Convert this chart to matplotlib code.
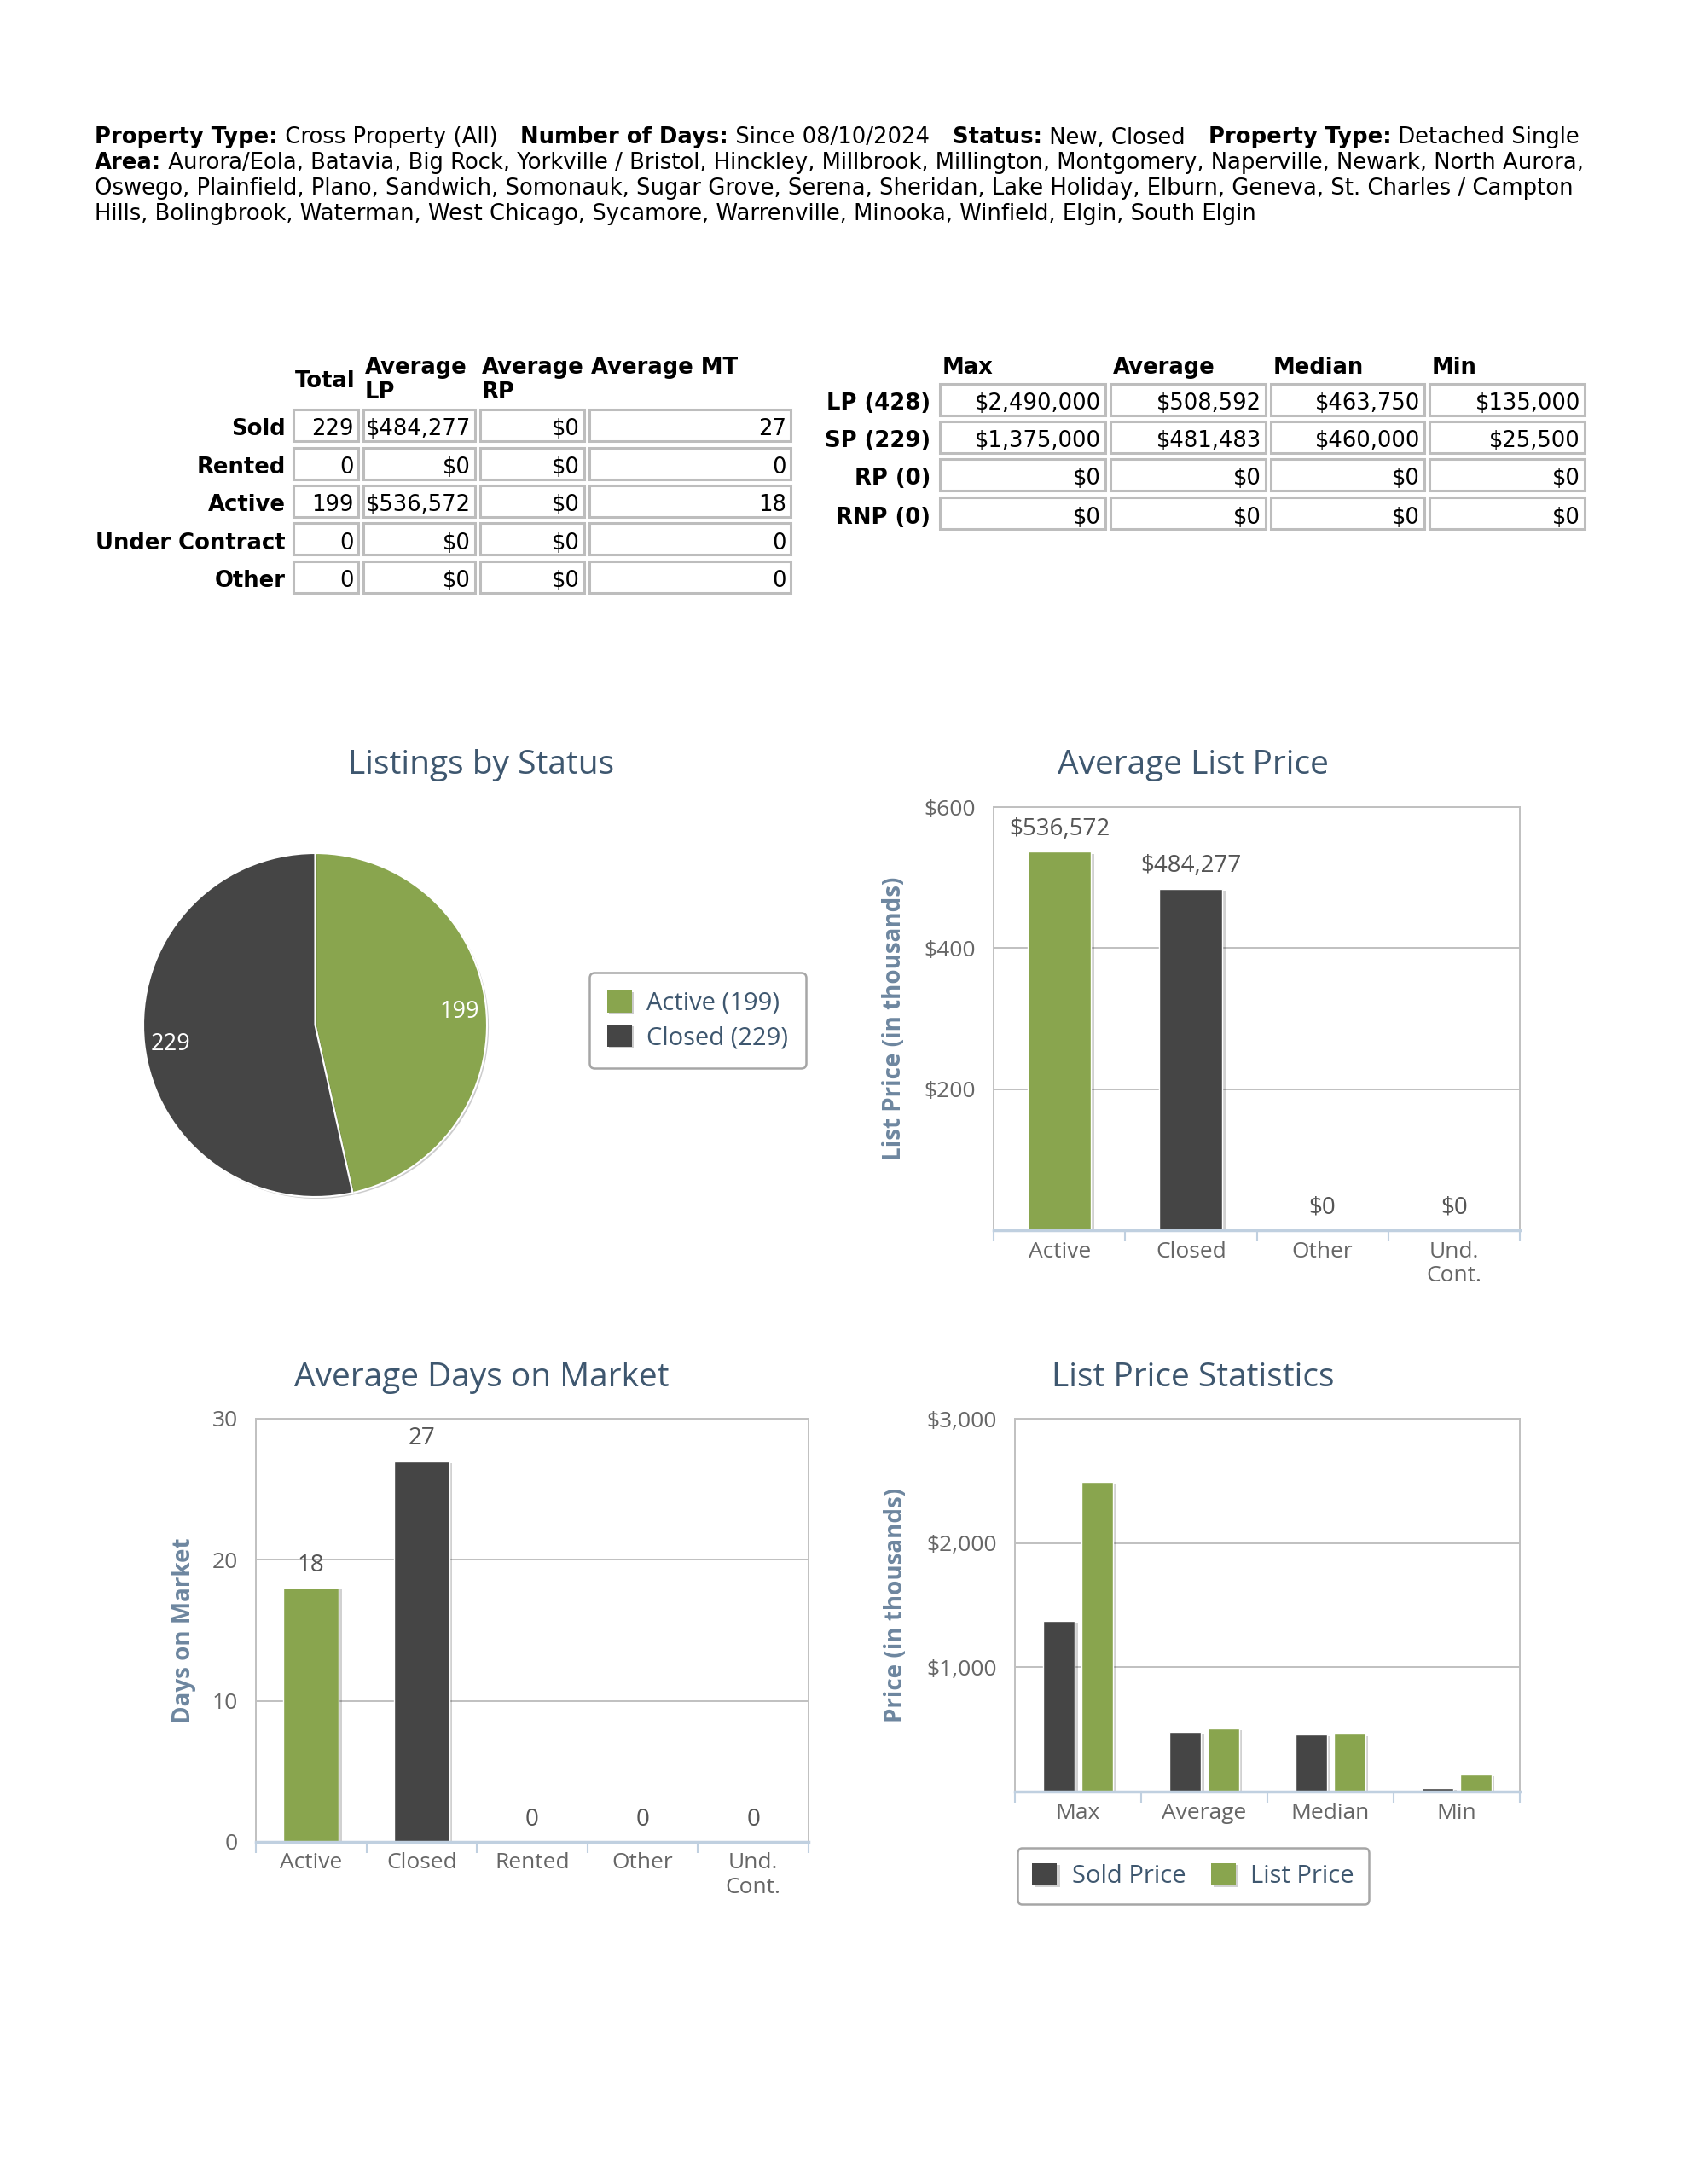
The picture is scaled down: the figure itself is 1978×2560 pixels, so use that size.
import matplotlib
matplotlib.use("Agg")
import matplotlib.pyplot as plt
import matplotlib.patheffects as pe
from matplotlib.patches import Rectangle
import numpy as np

# ---- data ----
hdr_line1 = [("Property Type:", "bold"), (" Cross Property (All)", "normal"),
             ("   Number of Days:", "bold"), (" Since 08/10/2024", "normal"),
             ("   Status:", "bold"), (" New, Closed", "normal"),
             ("   Property Type:", "bold"), (" Detached Single", "normal")]
hdr_area = ("Area:", " Aurora/Eola, Batavia, Big Rock, Yorkville / Bristol, Hinckley, Millbrook, "
            "Millington, Montgomery, Naperville, Newark, North Aurora,")
hdr_more = ["Oswego, Plainfield, Plano, Sandwich, Somonauk, Sugar Grove, Serena, Sheridan, "
            "Lake Holiday, Elburn, Geneva, St. Charles / Campton",
            "Hills, Bolingbrook, Waterman, West Chicago, Sycamore, Warrenville, Minooka, "
            "Winfield, Elgin, South Elgin"]

status_rows = ["Sold", "Rented", "Active", "Under Contract", "Other"]
status_total = [229, 0, 199, 0, 0]
status_avg_lp = [484277, 0, 536572, 0, 0]
status_avg_rp = [0, 0, 0, 0, 0]
status_avg_mt = [27, 0, 18, 0, 0]

price_rows = ["LP (428)", "SP (229)", "RP (0)", "RNP (0)"]
price_cols = ["Max", "Average", "Median", "Min"]
lp_stats = [2490000, 508592, 463750, 135000]
sp_stats = [1375000, 481483, 460000, 25500]
rp_stats = [0, 0, 0, 0]
rnp_stats = [0, 0, 0, 0]

pie_labels = ["Active", "Closed"]
pie_counts = [199, 229]

alp_cats = ["Active", "Closed", "Other", "Und.\nCont."]
alp_vals = [536572, 484277, 0, 0]

dom_cats = ["Active", "Closed", "Rented", "Other", "Und.\nCont."]
dom_vals = [18, 27, 0, 0, 0]

GREEN = "#89A54E"
DARK = "#454545"
TITLE_C = "#3E576F"
AXT_C = "#6D869F"
TICK_C = "#666666"
GRID_C = "#C0C0C0"
AXIS_C = "#C0D0E0"

plt.rcParams['font.family'] = ['Open Sans', 'DejaVu Sans']

W, H = 1978, 2560
fig = plt.figure(figsize=(W / 100, H / 100), dpi=100)
fig.patch.set_facecolor("white")

def box(l, t, r, b):
    return [l / W, 1 - b / H, (r - l) / W, (b - t) / H]

bg = fig.add_axes([0, 0, 1, 1])
bg.set_xlim(0, W)
bg.set_ylim(H, 0)
bg.axis("off")
renderer = fig.canvas.get_renderer()

HFS = 18.6
TBF = 18.6

def runs(x, y, parts):
    for txt, wt in parts:
        t = bg.text(x, y, txt, fontsize=HFS, fontweight=wt, family="DejaVu Sans",
                    va="center_baseline", ha="left")
        x += t.get_window_extent(renderer).width

# header
runs(111, 158.5, hdr_line1)
runs(111, 188.5, [(hdr_area[0], "bold"), (hdr_area[1], "normal")])
for i, line in enumerate(hdr_more):
    runs(111, 218.5 + 29.5 * i, [(line, "normal")])

def label(x, y, txt, **kw):
    bg.text(x, y, txt, fontsize=TBF, family="DejaVu Sans", va="center_baseline", **kw)

def cell(l, r, yc, txt, h=37):
    bg.add_patch(Rectangle((l, yc - h / 2), r - l, h, facecolor="white",
                           edgecolor="#BDBDBD", lw=2.2))
    label(r - 5, yc + 2, txt, ha="right")

money = lambda v: f"${v:,.0f}"

# left table
lcols = [(344, 420), (426, 557), (563, 685), (691, 927)]
lrow_y = [498, 543, 587, 631.5, 676]
label(346, 444, "Total", fontweight="bold")
for x, sub in [(428, "LP"), (565, "RP")]:
    label(x, 428, "Average", fontweight="bold")
    label(x, 457, sub, fontweight="bold")
label(693, 428, "Average MT", fontweight="bold")
for i, name in enumerate(status_rows):
    y = lrow_y[i]
    label(335, y + 2, name, fontweight="bold", ha="right")
    vals = [str(status_total[i]), money(status_avg_lp[i]), money(status_avg_rp[i]),
            str(status_avg_mt[i])]
    for (l, r), v in zip(lcols, vals):
        cell(l, r, y, v)

# right table
rcols = [(1102, 1296), (1302, 1484), (1490, 1670), (1676, 1858)]
rrow_y = [468, 512, 556.5, 601.5]
for (l, r), c in zip(rcols, price_cols):
    label(l + 3, 428, c, fontweight="bold")
for i, (name, vals) in enumerate(zip(price_rows, [lp_stats, sp_stats, rp_stats, rnp_stats])):
    y = rrow_y[i]
    label(1091, y + 2, name, fontweight="bold", ha="right")
    for (l, r), v in zip(rcols, vals):
        cell(l, r, y, money(v))

# chart titles
TFS = 28
bg.text(564, 897, "Listings by Status", fontsize=TFS, color=TITLE_C, ha="center", va="center")
bg.text(1399, 897, "Average List Price", fontsize=TFS, color=TITLE_C, ha="center", va="center")
bg.text(565, 1615, "Average Days on Market", fontsize=TFS, color=TITLE_C, ha="center", va="center")
bg.text(1399, 1615, "List Price Statistics", fontsize=TFS, color=TITLE_C, ha="center", va="center")

shadow = [pe.SimplePatchShadow(offset=(2.5, -1.5), shadow_rgbFace="#000000", alpha=0.18), pe.Normal()]

# pie
cx, cy, rr = 369.5, 1201.5, 201.5
ax_pie = fig.add_axes(box(cx - rr * 1.03, cy - rr * 1.03, cx + rr * 1.03, cy + rr * 1.03))
total = sum(pie_counts)
wedges, _, autotexts = ax_pie.pie(
    pie_counts, colors=[GREEN, DARK], startangle=90, counterclock=False,
    autopct=lambda p: f"{round(p * total / 100)}", pctdistance=0.845,
    wedgeprops=dict(edgecolor="white", linewidth=1.5),
    textprops=dict(color="white", fontsize=19.5))
for t in autotexts:
    t.set_va("center_baseline")
for w in wedges:
    w.set_path_effects([pe.SimplePatchShadow(offset=(1.5, -1.5), shadow_rgbFace="#000000",
                                             alpha=0.2), pe.Normal()])
ax_pie.set_xlim(-1.03, 1.03)
ax_pie.set_ylim(-1.03, 1.03)
leg = ax_pie.legend(wedges, [f"{n} ({c})" for n, c in zip(pie_labels, pie_counts)],
                    loc="center", bbox_to_anchor=(818 / W, 1 - 1196 / H),
                    bbox_transform=fig.transFigure, fontsize=21, labelcolor=TITLE_C,
                    frameon=True, fancybox=True, edgecolor="#909090", handlelength=1.0,
                    handleheight=1.0, handletextpad=0.6, borderpad=0.7, labelspacing=0.35)
leg.get_frame().set_linewidth(1.8)
for h in leg.legend_handles:
    h.set_edgecolor("none")

def style_bar_axes(ax, ncat):
    ax.set_xlim(-0.5, ncat - 0.5)
    ax.set_axisbelow(True)
    ax.grid(axis="y", color=GRID_C, lw=1.4)
    for s in ["top", "left", "right"]:
        ax.spines[s].set_color(GRID_C)
        ax.spines[s].set_linewidth(1.4)
    ax.spines["bottom"].set_color(AXIS_C)
    ax.spines["bottom"].set_linewidth(2.5)
    ax.set_xticks(np.arange(-0.5, ncat, 1.0), minor=True)
    ax.tick_params(axis="x", which="minor", length=9, width=1.5, color=AXIS_C)
    ax.tick_params(axis="x", which="major", length=0, pad=9, labelsize=19, labelcolor=TICK_C)
    ax.tick_params(axis="y", length=0, pad=15, labelsize=19, labelcolor=TICK_C)

VFS = 20

# average list price
ax1 = fig.add_axes(box(1165, 946, 1782, 1442))
x1 = np.arange(len(alp_cats))
bars = ax1.bar(x1, np.array(alp_vals) / 1000, width=0.48, color=[GREEN, DARK, GREEN, DARK],
               edgecolor="white", lw=1)
for b in bars:
    b.set_path_effects(shadow)
for xi, v in zip(x1, alp_vals):
    ax1.annotate(money(v), (xi, v / 1000), xytext=(0, 19), textcoords="offset points",
                 ha="center", va="center", fontsize=VFS, color="#555555")
ax1.set_ylim(0, 600)
ax1.set_yticks([200, 400, 600], ["$200", "$400", "$600"])
ax1.set_xticks(x1, alp_cats)
style_bar_axes(ax1, len(alp_cats))
ax1.set_ylabel("List Price (in thousands)", fontsize=20, color=AXT_C, fontweight="bold", va="center")
ax1.yaxis.set_label_coords((1048 - 1165) / 617, 0.5)

# days on market
ax2 = fig.add_axes(box(300, 1663, 948, 2159))
x2 = np.arange(len(dom_cats))
bars = ax2.bar(x2, dom_vals, width=0.5, color=[GREEN, DARK, GREEN, DARK, GREEN],
               edgecolor="white", lw=1)
for b in bars:
    b.set_path_effects(shadow)
for xi, v in zip(x2, dom_vals):
    ax2.annotate(str(v), (xi, v), xytext=(0, 19), textcoords="offset points",
                 ha="center", va="center", fontsize=VFS, color="#555555")
ax2.set_ylim(0, 30)
ax2.set_yticks([0, 10, 20, 30])
ax2.set_xticks(x2, dom_cats)
style_bar_axes(ax2, len(dom_cats))
ax2.set_ylabel("Days on Market", fontsize=20, color=AXT_C, fontweight="bold", va="center")
ax2.yaxis.set_label_coords((216 - 300) / 648, 0.5)

# list price statistics
ax3 = fig.add_axes(box(1190, 1663, 1782, 2100))
x3 = np.arange(len(price_cols))
b_sp = ax3.bar(x3 - 0.15, np.array(sp_stats) / 1000, width=0.25, color=DARK,
               edgecolor="white", lw=1, label="Sold Price")
b_lp = ax3.bar(x3 + 0.15, np.array(lp_stats) / 1000, width=0.25, color=GREEN,
               edgecolor="white", lw=1, label="List Price")
for b in list(b_sp) + list(b_lp):
    b.set_path_effects(shadow)
ax3.set_ylim(0, 3000)
ax3.set_yticks([1000, 2000, 3000], ["$1,000", "$2,000", "$3,000"])
ax3.set_xticks(x3, price_cols)
style_bar_axes(ax3, len(price_cols))
ax3.set_ylabel("Price (in thousands)", fontsize=20, color=AXT_C, fontweight="bold", va="center")
ax3.yaxis.set_label_coords((1050 - 1190) / 592, 0.5)
leg3 = ax3.legend(loc="center", bbox_to_anchor=(1399 / W, 1 - 2199 / H),
                  bbox_transform=fig.transFigure, ncol=2, fontsize=21, labelcolor=TITLE_C,
                  frameon=True, fancybox=True, edgecolor="#909090", handlelength=1.0,
                  handleheight=1.0, handletextpad=0.6, columnspacing=1.0, borderpad=0.6)
leg3.get_frame().set_linewidth(1.8)
for h in leg3.legend_handles:
    h.set_edgecolor("none")

fig.savefig("out.png", dpi=100, facecolor="white")
